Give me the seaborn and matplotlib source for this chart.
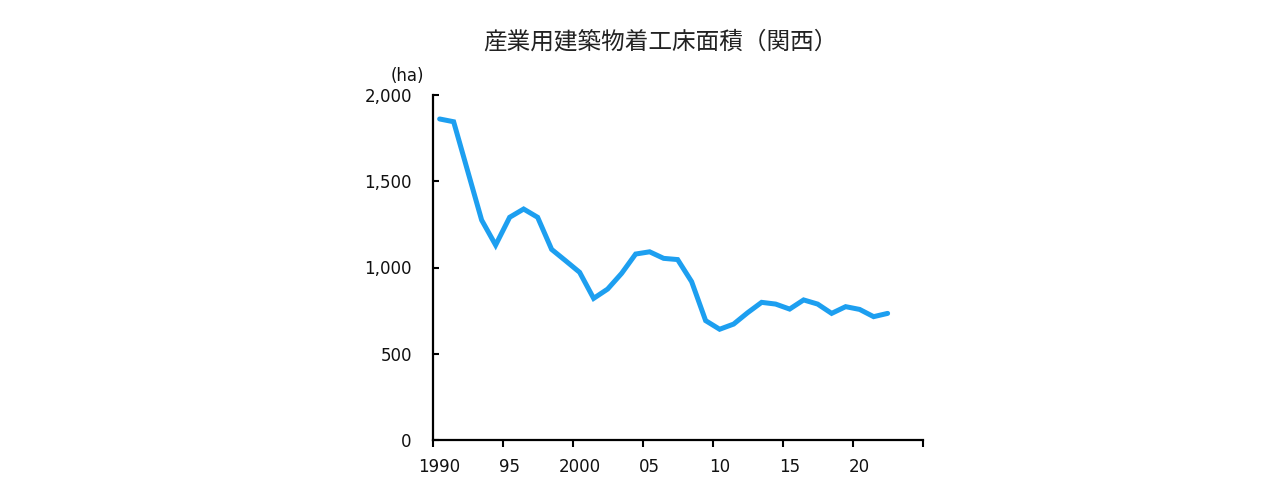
import matplotlib
matplotlib.use("Agg")
import matplotlib.pyplot as plt
import seaborn as sns
import pandas as pd

years = list(range(1990, 2023))
area_ha = [1861, 1845, 1560, 1275, 1130, 1291, 1339, 1291, 1105, 1039,
           972, 821, 875, 966, 1078, 1091, 1053, 1046, 918, 692,
           642, 672, 738, 798, 788, 759, 812, 788, 734, 773,
           757, 715, 734]
x_tick_years = [1990, 1995, 2000, 2005, 2010, 2015, 2020]
x_tick_labels = ["1990", "95", "2000", "05", "10", "15", "20"]
y_ticks = [0, 500, 1000, 1500, 2000]
y_tick_labels = ["0", "500", "1,000", "1,500", "2,000"]
title = "産業用建築物着工床面積（関西）"
unit = "(ha)"

sns.set_theme(style="white")
plt.rcParams["font.family"] = ["DejaVu Sans", "Noto Sans CJK JP"]

df = pd.DataFrame({"year": years, "area": area_ha})

fig = plt.figure(figsize=(12.8, 5), dpi=100)
ax = fig.add_axes([0.338, 0.12, 0.3828, 0.69])
sns.lineplot(data=df, x="year", y="area", ax=ax, color="#1d9ff0",
             linewidth=3.6, solid_joinstyle="miter")

ax.set_xlim(1989.5, 2024.5)
ax.set_ylim(0, 2000)
ax.set_xlabel("")
ax.set_ylabel("")

# major ticks at category boundaries, labels at category centers
ax.set_xticks([1989.5 + 5 * k for k in range(8)])
ax.set_xticklabels([""] * 8)
ax.set_xticks(x_tick_years, minor=True)
ax.set_xticklabels(x_tick_labels, minor=True)
ax.tick_params(axis="x", which="major", direction="out", length=5, width=1.5,
               color="black", bottom=True)
ax.tick_params(axis="x", which="minor", length=0, labelsize=12, pad=13,
               labelcolor="#111111", bottom=True)

ax.set_yticks(y_ticks)
ax.set_yticklabels(y_tick_labels)
ax.tick_params(axis="y", direction="in", length=4, width=1.5, color="black",
               labelsize=12, pad=15, labelcolor="#111111", left=True)

for s in ["top", "right"]:
    ax.spines[s].set_visible(False)
for s in ["left", "bottom"]:
    ax.spines[s].set_color("black")
    ax.spines[s].set_linewidth(1.6)

fig.text(407 / 1280, 1 - 76 / 500, unit, ha="center", va="center",
         fontsize=12, color="#111111")
fig.text(660 / 1280, 1 - 42 / 500, title, ha="center", va="center",
         fontsize=17, color="#222222",
         family=["Noto Sans CJK JP", "DejaVu Sans"])

fig.savefig("out.png", dpi=100)
